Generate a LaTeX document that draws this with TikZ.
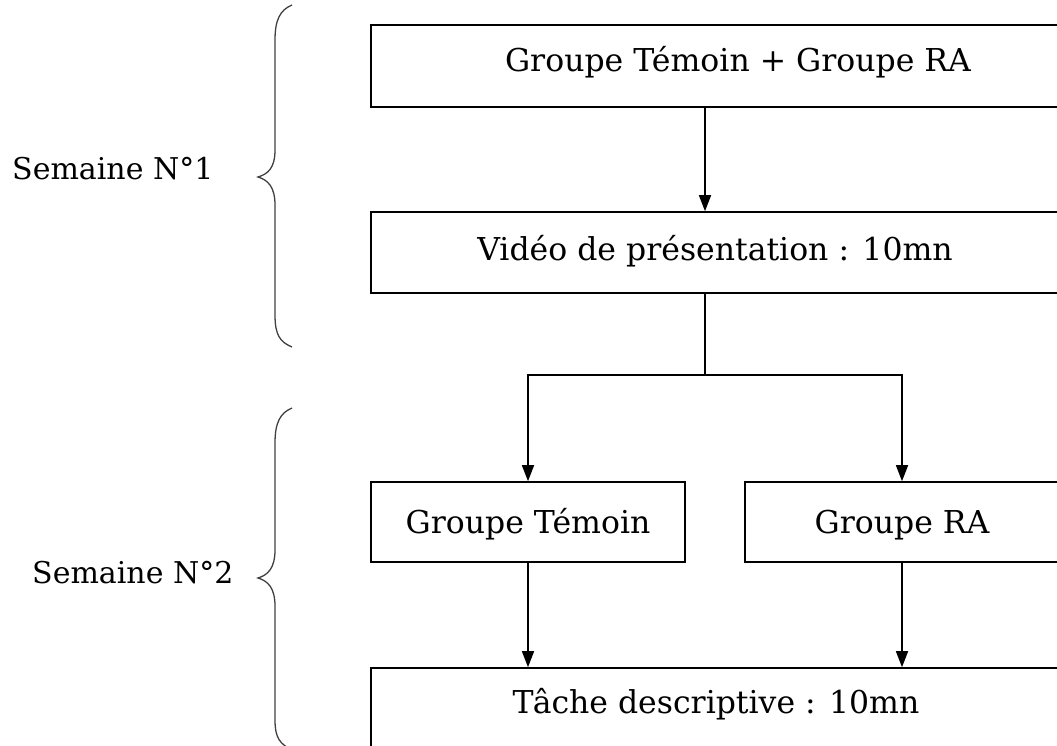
\documentclass[tikz,border=0pt]{standalone}
\usepackage{fontspec}
\setmainfont{DejaVu Serif}
\usetikzlibrary{arrows.meta}
\newcommand{\bl}[2]{\raisebox{#1}[0pt][0pt]{#2}}
\begin{document}
\begin{tikzpicture}[x=1pt,y=-1pt,
  box/.style={draw, line width=1.6pt, inner sep=0pt, font=\fontsize{31.5}{36}\selectfont},
  arr/.style={line width=1.5pt, -{Triangle[length=16pt,width=12pt]}},
  conn/.style={line width=1.5pt},
  brace/.style={line width=1.3pt, draw=black!75},
  lab/.style={font=\fontsize{30}{36}\selectfont, inner sep=0pt}]
\useasboundingbox (0,0) rectangle (1057,746);
\node[box, minimum width=734pt, minimum height=82pt] (b1) at (738,66) {\bl{-5.7pt}{Groupe Témoin + Groupe RA}};
\node[box, minimum width=688pt, minimum height=81pt] (b2) at (715,252.5) {\bl{-7.5pt}{Vidéo de présentation : 10mn}};
\node[box, minimum width=314pt, minimum height=80pt] (tem) at (528,522) {\bl{-11pt}{Groupe Témoin}};
\node[box, minimum width=314pt, minimum height=80pt] (ra) at (902,522) {\bl{-11pt}{Groupe RA}};
\node[box, minimum width=690pt, minimum height=112pt] (task) at (716,724) {\bl{11pt}{Tâche descriptive : 10mn}};
\coordinate (j) at (705,375);
\draw[arr] (b1.south -| j) -- (b2.north -| j);
\draw[conn] (b2.south -| j) -- (j);
\draw[arr] (j) -| (tem.north);
\draw[arr] (j) -| (ra.north);
\draw[arr] (tem.south) -- (tem.south |- task.north);
\draw[arr] (ra.south) -- (ra.south |- task.north);
\node[lab, anchor=base west] (s1) at (12,180) {Semaine N°1};
\node[lab, anchor=base west] (s2) at (32,583) {Semaine N°2};
\draw[brace] (292,5) .. controls (280,10) and (275,20) .. (275,40)
  -- (275,150) .. controls (275,168) and (268,174) .. (258,177)
  .. controls (268,180) and (275,187) .. (275,205)
  -- (275,315) .. controls (275,335) and (280,342) .. (292,347);
\draw[brace] (292,408) .. controls (280,413) and (275,423) .. (275,443)
  -- (275,550) .. controls (275,568) and (268,575) .. (258,578)
  .. controls (268,581) and (275,588) .. (275,606)
  -- (275,720) .. controls (275,738) and (280,744) .. (292,750);
\end{tikzpicture}
\end{document}
